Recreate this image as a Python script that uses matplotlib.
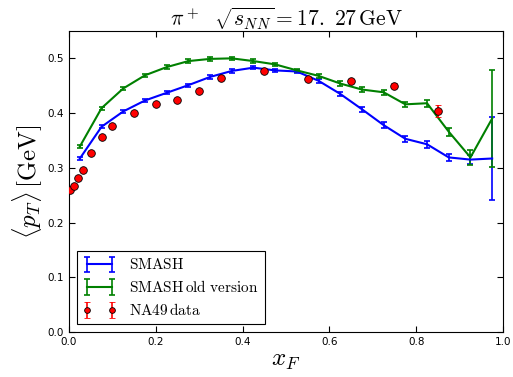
import matplotlib
matplotlib.use("Agg")
import matplotlib.pyplot as plt
import numpy as np

plt.rcParams['mathtext.fontset'] = 'cm'
plt.rcParams['font.family'] = ['DejaVu Sans']

# Feynman-x bin centres for the model curves
xf_model = [0.025, 0.075, 0.125, 0.175, 0.225, 0.275, 0.325, 0.375, 0.425, 0.475,
            0.525, 0.575, 0.625, 0.675, 0.725, 0.775, 0.825, 0.875, 0.925, 0.975]

# SMASH mean transverse momentum [GeV]
smash_pt = [0.317, 0.375, 0.403, 0.423, 0.437, 0.451, 0.466, 0.477, 0.483, 0.478,
            0.476, 0.459, 0.435, 0.407, 0.378, 0.353, 0.343, 0.319, 0.315, 0.317]
smash_err = [0.003, 0.003, 0.003, 0.003, 0.003, 0.003, 0.003, 0.003, 0.003, 0.003,
             0.003, 0.004, 0.004, 0.005, 0.005, 0.005, 0.006, 0.006, 0.008, 0.076]

# SMASH old version mean transverse momentum [GeV]
old_pt = [0.339, 0.409, 0.445, 0.469, 0.484, 0.495, 0.499, 0.500, 0.495, 0.489,
          0.478, 0.468, 0.454, 0.443, 0.438, 0.416, 0.418, 0.366, 0.319, 0.390]
old_err = [0.003, 0.003, 0.003, 0.003, 0.003, 0.003, 0.003, 0.003, 0.003, 0.003,
           0.003, 0.004, 0.004, 0.004, 0.005, 0.005, 0.006, 0.007, 0.014, 0.089]

# NA49 measurements
xf_data = [0.0025, 0.0115, 0.0215, 0.0315, 0.05, 0.075, 0.1, 0.15, 0.2, 0.25,
           0.3, 0.35, 0.45, 0.55, 0.65, 0.75, 0.85]
data_pt = [0.259, 0.267, 0.282, 0.296, 0.327, 0.357, 0.376, 0.401, 0.417, 0.4245,
           0.440, 0.4635, 0.477, 0.463, 0.459, 0.450, 0.404]
data_err = [0.002, 0.002, 0.002, 0.002, 0.002, 0.002, 0.002, 0.002, 0.002, 0.002,
            0.002, 0.002, 0.003, 0.003, 0.004, 0.005, 0.011]

fig = plt.figure(figsize=(5.13, 3.77), dpi=100)
ax = fig.add_axes([0.1345, 0.1194, 0.846, 0.7984])

ax.errorbar(xf_model, smash_pt, yerr=smash_err, color='b', lw=1.5, capsize=2.5,
            capthick=1.2, elinewidth=1.2, label=r'$\mathrm{SMASH}$')
ax.errorbar(xf_model, old_pt, yerr=old_err, color='g', lw=1.5, capsize=2.5,
            capthick=1.2, elinewidth=1.2, label=r'$\mathrm{SMASH\,old\ version}$')
ax.errorbar(xf_data, data_pt, yerr=data_err, fmt='o', color='r', ecolor='r',
            mec='k', mew=0.6, ms=5.5, capsize=2.5, capthick=1.2, elinewidth=1.2,
            label=r'$\mathrm{NA49\,data}$', zorder=3)

ax.set_xlim(0, 1.0)
ax.set_ylim(0, 0.55)
ax.set_xticks([0.0, 0.2, 0.4, 0.6, 0.8, 1.0])
ax.set_yticks([0.0, 0.1, 0.2, 0.3, 0.4, 0.5])
ax.tick_params(direction='in', top=True, right=True, labelsize=7.5, length=4, width=0.8)

ax.set_title(r'$\pi^+\ \ \sqrt{s_{NN}} = 17.\ 27\,\mathrm{GeV}$', fontsize=15.5, pad=3)
ax.set_xlabel(r'$x_F$', fontsize=18, labelpad=1)
ax.set_ylabel(r'$\langle p_T\rangle\,[\mathrm{GeV}]$', fontsize=18, labelpad=2)

leg = ax.legend(loc='lower left', numpoints=2, fontsize=11, fancybox=False,
                framealpha=1, edgecolor='k', borderaxespad=0.5, handlelength=2.2,
                labelspacing=0.45, markerscale=0.75)
leg.get_frame().set_linewidth(0.8)

fig.savefig('out.png', dpi=100)
